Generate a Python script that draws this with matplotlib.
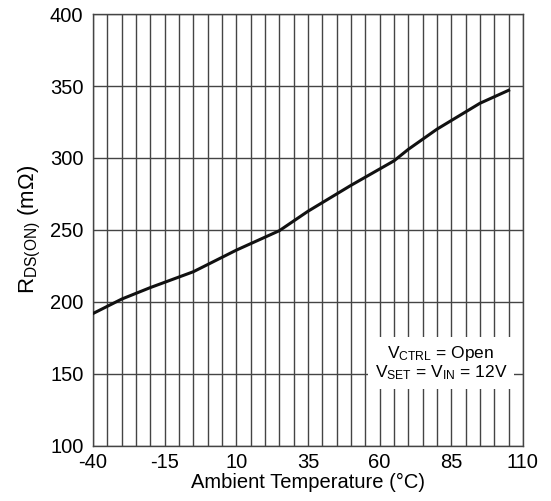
import numpy as np
import matplotlib
matplotlib.use('Agg')
import matplotlib.pyplot as plt
from matplotlib.ticker import MultipleLocator

plt.rcParams['font.family'] = ['Liberation Sans', 'DejaVu Sans']
plt.rcParams['mathtext.fontset'] = 'custom'
plt.rcParams['mathtext.rm'] = 'Liberation Sans'
plt.rcParams['mathtext.it'] = 'Liberation Sans'
plt.rcParams['axes.unicode_minus'] = False

# temperature (C) vs on-resistance (mOhm)
temp = [-40, -30, -20, -5, 10, 25, 35, 50, 65, 70, 80, 95, 105]
rdson = [192, 202, 210, 221, 236, 249.5, 263, 281, 298, 306, 320, 338, 347]

xticks = [-40, -15, 10, 35, 60, 85, 110]
yticks = [100, 150, 200, 250, 300, 350, 400]

fig = plt.figure(figsize=(5.51, 5.01), dpi=100)
ax = fig.add_axes([0.169, 0.110, 0.780, 0.862])

ax.plot(temp, rdson, color='#111111', lw=2.2, zorder=3)

ax.set_xlim(-40, 110)
ax.set_ylim(100, 400)
ax.set_xticks(xticks)
ax.set_yticks(yticks)
ax.xaxis.set_minor_locator(MultipleLocator(5))
ax.grid(True, which='both', axis='x', color='#444444', lw=1.0)
ax.grid(True, which='major', axis='y', color='#444444', lw=1.0)
ax.tick_params(which='both', length=0, labelsize=14.5)
ax.tick_params(axis='y', pad=7)
ax.tick_params(axis='x', pad=5)
for s in ax.spines.values():
    s.set_color('#444444')
    s.set_linewidth(1.0)

ax.set_xlabel('Ambient Temperature (\u00b0C)', fontsize=14.5, labelpad=1)
ax.set_ylabel(r'R$_{\rm DS(ON)}$ (m$\Omega$)', fontsize=16, labelpad=5)

ax.text(81.4, 157.5, 'V$_{\\rm CTRL}$ = Open\nV$_{\\rm SET}$ = V$_{\\rm IN}$ = 12V',
        fontsize=12.5, ha='center', va='center', linespacing=1.05, zorder=4,
        bbox=dict(facecolor='white', edgecolor='none', pad=5))

fig.savefig('out.png', dpi=100)
